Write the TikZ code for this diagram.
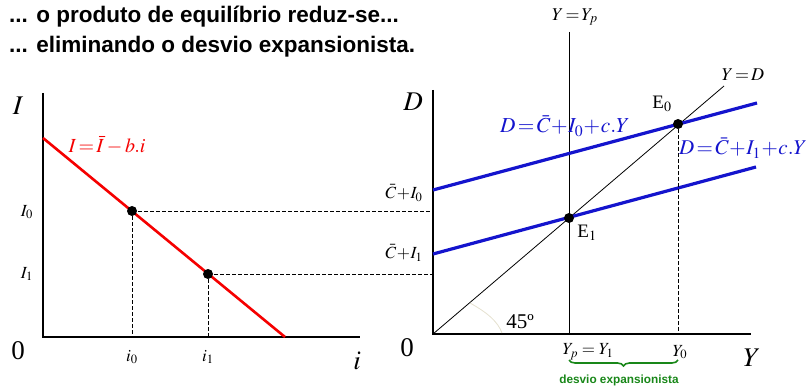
\documentclass[tikz,border=0pt]{standalone}
\usepackage{mathptmx}
\usepackage{fontspec}
\setmainfont{Liberation Serif}
\newfontfamily\titlefont{Liberation Sans}
\usetikzlibrary{decorations.pathreplacing}

\definecolor{demandblue}{RGB}{20,20,205}
\definecolor{invred}{RGB}{245,0,0}
\definecolor{gapgreen}{RGB}{25,135,25}
\definecolor{arcgray}{RGB}{228,224,206}

\tikzset{
  axis/.style={line width=2.4pt},
  guide/.style={line width=0.7pt, dash pattern=on 3.5pt off 2.5pt},
  refline/.style={line width=0.8pt},
  demand/.style={demandblue, line width=3.2pt},
  dot/.style={circle, fill=black, inner sep=0pt, minimum size=10pt},
  biglabel/.style={font=\fontsize{27}{29}\selectfont},
  ticklabel/.style={font=\fontsize{17}{19}\selectfont},
  eqlabel/.style={font=\fontsize{20}{22}\selectfont},
}

\begin{document}
\begin{tikzpicture}[x=1pt, y=-1pt]
\useasboundingbox (0,0) rectangle (808,390);

% title
\node[anchor=base west, inner sep=0pt, font=\titlefont\bfseries\fontsize{22.5}{25}\selectfont] (title1) at (9,23) {... o produto de equilíbrio reduz-se...};
\node[anchor=base west, inner sep=0pt, font=\titlefont\bfseries\fontsize{22.5}{25}\selectfont] (title2) at (9,53) {... eliminando o desvio expansionista.};

% left panel: investment
\coordinate (O1) at (43,337);
\coordinate (Itop) at (43,93);
\coordinate (iend) at (360,337);
\coordinate (R0) at (43,138);
\coordinate (R1) at (285,337);
\coordinate (i0) at (132,337);
\coordinate (i1) at (208,337);
\coordinate (hookI0) at (433,211);
\coordinate (hookI1) at (433,274);

\draw[axis] (Itop) -- (O1) -- (iend);
\draw[invred, line width=2.6pt] (R0) -- (R1);
\node[dot] (P0) at (132,211) {};
\node[dot] (P1) at (208,274) {};
\draw[guide] (P0) -- (i0);
\draw[guide] (P1) -- (i1);
\draw[guide] (P0.center) -- (hookI0);
\draw[guide] (P1.center) -- (hookI1);

\node[biglabel] (labI) at (18,106) {$I$};
\node[biglabel] (lab0a) at (18,351) {0};
\node[ticklabel] (labI0) at (27,212) {$I_0$};
\node[ticklabel] (labI1) at (27,274) {$I_1$};
\node[ticklabel] (labi0) at (132,357) {$i_0$};
\node[ticklabel] (labi1) at (208,357) {$i_1$};
\node[biglabel] (labi) at (357,361) {$i$};
\node[invred, eqlabel] (labinv) at (107,145) {$I\!=\!\bar{I}-b.i$};

% right panel: aggregate demand
\coordinate (O2) at (433,334);
\coordinate (Dtop) at (433,90);
\coordinate (Yend) at (751,334);
\coordinate (Yptop) at (569,32);
\coordinate (Ypbot) at (569,334);
\coordinate (diag) at (724,86);
\coordinate (Y0bot) at (678,334);

\draw[axis] (Dtop) -- (O2) -- (Yend);
\draw[refline] (Yptop) -- (Ypbot);
\draw[refline] (O2) -- (diag);
\draw[arcgray, line width=0.8pt] (470,303) .. controls (488,313) and (498,322) .. (502,333);
\draw[demand] (433,190) -- (757,103);
\draw[demand] (433,254) -- (756,167);
\node[dot] (E0) at (678,124) {};
\node[dot] (E1) at (569,218) {};
\draw[guide] (E0) -- (Y0bot);

\node[biglabel] (labD) at (413,102) {$D$};
\node[biglabel] (lab0b) at (407,348) {0};
\node[biglabel] (labY) at (752,358) {$Y$};
\node[ticklabel] (labC0) at (404,193) {$\bar{C}\!+\!I_0$};
\node[ticklabel] (labC1) at (404,253) {$\bar{C}\!+\!I_1$};
\node[font=\fontsize{19}{21}\selectfont] (labE0) at (662,104) {E$_0$};
\node[font=\fontsize{19}{21}\selectfont] (labE1) at (587,233) {E$_1$};
\node[font=\fontsize{18}{20}\selectfont] (labYp) at (575,17) {$Y\!=\!Y_p$};
\node[font=\fontsize{18}{20}\selectfont] (labYD) at (743,75) {$Y\!=\!D$};
\node[font=\fontsize{21}{23}\selectfont] (lab45) at (520,322) {45º};
\node[demandblue, font=\fontsize{21.3}{23}\selectfont, anchor=base west, inner sep=0pt] (labD0) at (500,133) {$D\!=\!\bar{C}\!+\!I_0\!+\!c.Y$};
\node[demandblue, font=\fontsize{21}{23}\selectfont, anchor=base west, inner sep=0pt] (labD1) at (679,155) {$D\!=\!\bar{C}\!+\!I_1\!+\!c.Y$};
\node[ticklabel] (labYp1) at (588,352) {$Y_p = Y_1$};
\node[ticklabel] (labY0) at (680,352) {$Y_0$};

% expansionary gap
\draw[gapgreen, line width=1.6pt, decorate, decoration={brace, amplitude=6pt}] (678,360) -- (569,360);
\node[gapgreen, font=\titlefont\bfseries\fontsize{11.8}{13}\selectfont] (gap) at (619,380) {desvio expansionista};
\end{tikzpicture}
\end{document}
